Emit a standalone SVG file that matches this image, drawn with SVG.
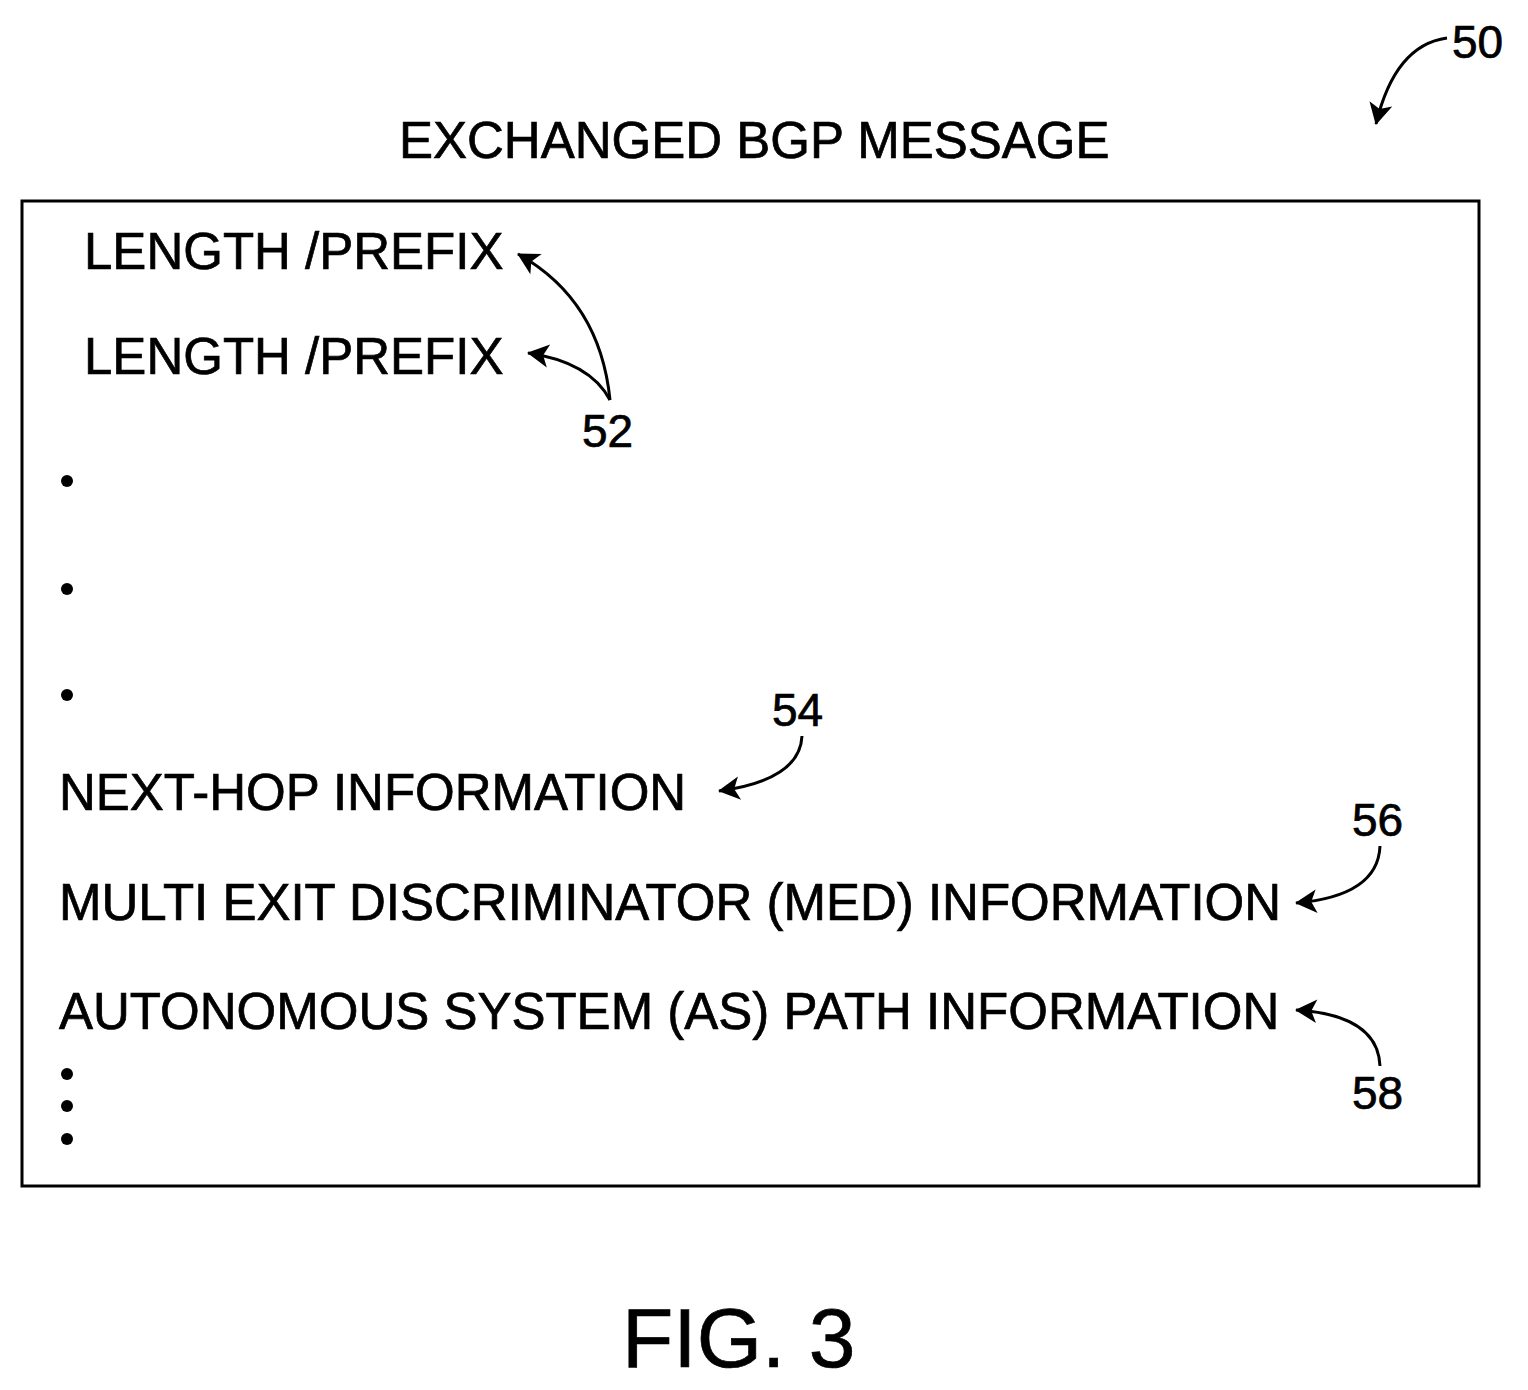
<svg xmlns="http://www.w3.org/2000/svg" width="1528" height="1390" viewBox="0 0 1528 1390">
<style>
text{font-family:"Liberation Sans",Arial,sans-serif;fill:#000;stroke:#000;stroke-width:0.7}
.t{font-size:51px}
.c{fill:none;stroke:#000;stroke-width:3}
</style>
<defs><marker id="a" viewBox="0 0 10 10" refX="9" refY="5" markerWidth="9" markerHeight="9" markerUnits="userSpaceOnUse" orient="auto" style="overflow:visible"><path d="M-14,-8 L10,5 L-14,18 L-8,5 Z" fill="#000"/></marker></defs>
<rect width="1528" height="1390" fill="#fff"/>
<text class="t" x="399" y="158">EXCHANGED BGP MESSAGE</text>
<g id="box"><rect x="22" y="201" width="1457" height="985" fill="none" stroke="#000" stroke-width="3"/></g>
<g id="n1"><text class="t" x="84" y="269">LENGTH /PREFIX</text></g>
<g id="n2"><text class="t" x="84" y="374">LENGTH /PREFIX</text></g>
<g id="n3"><text class="t" x="59" y="810">NEXT-HOP INFORMATION</text></g>
<g id="n4"><text class="t" x="59" y="920">MULTI EXIT DISCRIMINATOR (MED) INFORMATION</text></g>
<g id="n5"><text class="t" x="59" y="1029">AUTONOMOUS SYSTEM (AS) PATH INFORMATION</text></g>
<g id="dots">
<circle cx="67" cy="481" r="6"/><circle cx="67" cy="589" r="6"/><circle cx="67" cy="695" r="6"/>
<circle cx="67" cy="1074" r="6"/><circle cx="67" cy="1106" r="6"/><circle cx="67" cy="1139" r="6"/>
</g>
<g id="labels" style="font-size:46px">
<text x="1452" y="58">50</text>
<text x="582" y="447">52</text>
<text x="772" y="726">54</text>
<text x="1352" y="836">56</text>
<text x="1352" y="1109">58</text>
</g>
<g id="connectors">
<path class="c" marker-end="url(#a)" d="M1447,38 Q1395,45 1376,124"/>
<path class="c" marker-end="url(#a)" d="M610,400 Q600,300 518,254"/>
<path class="c" marker-end="url(#a)" d="M610,400 Q590,362 528,353"/>
<path class="c" marker-end="url(#a)" d="M802,736 Q800,780 719,791"/>
<path class="c" marker-end="url(#a)" d="M1380,846 Q1378,896 1296,903"/>
<path class="c" marker-end="url(#a)" d="M1380,1066 Q1378,1015 1296,1010"/>
</g>
<text x="622" y="1367" style="font-size:84px">FIG. 3</text>
</svg>
